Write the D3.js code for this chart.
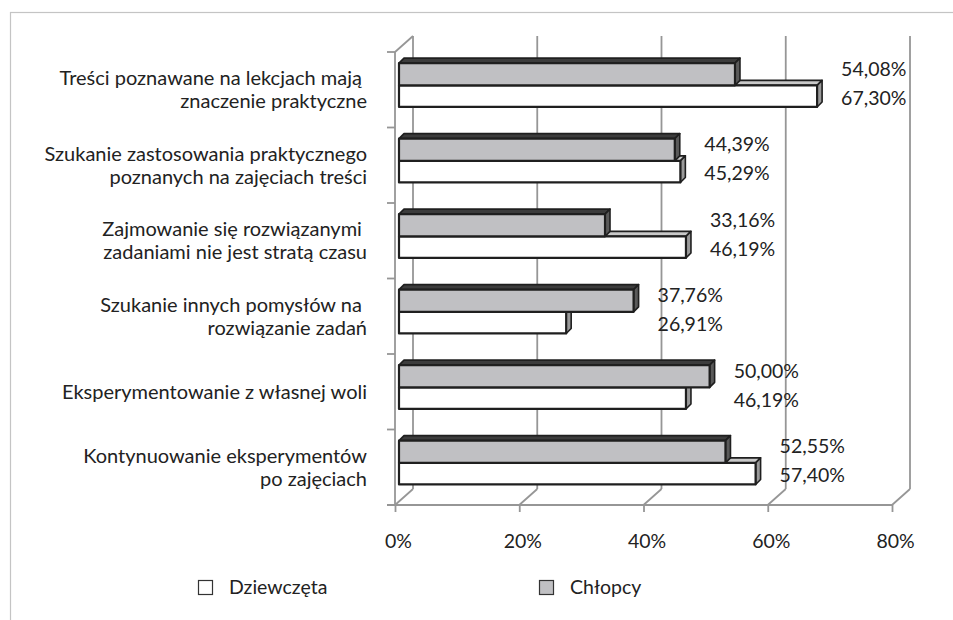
<!DOCTYPE html>
<html>
<head>
<meta charset="utf-8">
<script src="https://cdn.jsdelivr.net/npm/d3@7"></script>
<style>
  body { margin: 0; background: #fff; }
  svg text { font-family: Lato, "Open Sans", sans-serif; fill: #222; }
</style>
</head>
<body>
<div id="chart"></div>
<script>
// categories top -> bottom, line breaks as in the original
const categories = [
  "Treści poznawane na lekcjach mają \nznaczenie praktyczne",
  "Szukanie zastosowania praktycznego\npoznanych na zajęciach treści",
  "Zajmowanie się rozwiązanymi \nzadaniami nie jest stratą czasu",
  "Szukanie innych pomysłów na \nrozwiązanie zadań",
  "Eksperymentowanie z własnej woli",
  "Kontynuowanie eksperymentów\npo zajęciach"
];
const dziewczeta = [67.30, 45.29, 46.19, 26.91, 46.19, 57.40];
const chlopcy = [54.08, 44.39, 33.16, 37.76, 50.00, 52.55];
const xTicks = [0, 20, 40, 60, 80];
const seriesNames = ["Dziewczęta", "Chłopcy"];

const width = 953, height = 620;
const svg = d3.select('#chart')
  .append('svg')
  .attr('width', width)
  .attr('height', height);

// chart area border (only top + left visible)
svg.append('rect')
  .attr('x', 10.5).attr('y', 12.5)
  .attr('width', 1000).attr('height', 700)
  .attr('fill', 'none')
  .attr('stroke', '#c4c4c4')
  .attr('stroke-width', 1.2);

const x = d3.scaleLinear().domain([0, 80]).range([395, 892]);
const y = d3.scaleBand().domain(categories).range([52, 505]);
const bw = y.bandwidth();

// wall depth and bar depth (fake 3D)
const wd = { dx: 18, dy: -16 };
const bd = 5, inset = 4;
const gridColor = '#969696';
const yTop = y.range()[0], yBot = y.range()[1];

const walls = svg.append('g').attr('stroke', gridColor).attr('stroke-width', 1.8).attr('fill', 'none');

// back wall gridlines + floor diagonals
xTicks.forEach(t => {
  walls.append('line')
    .attr('x1', x(t) + wd.dx).attr('y1', yTop + wd.dy)
    .attr('x2', x(t) + wd.dx).attr('y2', yBot + wd.dy);
  walls.append('line')
    .attr('x1', x(t)).attr('y1', yBot)
    .attr('x2', x(t) + wd.dx).attr('y2', yBot + wd.dy);
});
// left wall top edge and front axis lines
walls.append('line')
  .attr('x1', x(0)).attr('y1', yTop)
  .attr('x2', x(0) + wd.dx).attr('y2', yTop + wd.dy);
walls.append('line')
  .attr('x1', x(0)).attr('y1', yTop)
  .attr('x2', x(0)).attr('y2', yBot);
walls.append('line')
  .attr('x1', x(0) - 8).attr('y1', yBot)
  .attr('x2', x(80)).attr('y2', yBot);

// category ticks on the left axis
const catEdges = categories.map(c => y(c)).concat([yBot]);
walls.selectAll('.ctick')
  .data(catEdges)
  .enter()
  .append('line')
  .attr('x1', x(0) - 8).attr('x2', x(0))
  .attr('y1', d => d).attr('y2', d => d);

// bottom axis with tick labels
const xAxis = svg.append('g')
  .attr('transform', `translate(0,${yBot})`)
  .call(d3.axisBottom(x).tickValues(xTicks).tickFormat(d => d + '%').tickSize(7).tickPadding(22));
xAxis.select('.domain').remove();
xAxis.selectAll('line').attr('stroke', gridColor).attr('stroke-width', 1.8);
xAxis.selectAll('text')
  .attr('dx', 3)
  .style('font-family', 'Lato, sans-serif')
  .style('font-size', '19.5px')
  .attr('fill', '#222');

// category labels
const catLabels = svg.append('g');
categories.forEach(c => {
  const lines = c.split('\n');
  const lh = 23;
  const cy = y(c) + bw / 2;
  const t = catLabels.append('text')
    .attr('text-anchor', 'end')
    .style('font-size', '20px')
    .style('white-space', 'pre');
  lines.forEach((l, i) => {
    t.append('tspan')
      .attr('x', 367)
      .attr('y', cy + (i - (lines.length - 1) / 2) * lh)
      .attr('dy', '0.35em')
      .text(l);
  });
});

// bars
const styles = {
  g: { front: '#c0c0c3', top: '#3c3c3c', side: '#5a5a5a' },
  w: { front: '#ffffff', top: '#c9c9c9', side: '#9a9a9a' }
};

function drawBar(g, v, y0, y1, st) {
  const x0 = x(0) + inset, x1 = x(v) + inset;
  const pts = a => a.map(p => p.join(',')).join(' ');
  const box = g.append('g').attr('stroke', '#1f1f1f').attr('stroke-width', 1.6).attr('stroke-linejoin', 'round');
  box.append('polygon')
    .attr('points', pts([[x0, y0], [x0 + bd, y0 - bd], [x1 + bd, y0 - bd], [x1, y0]]))
    .attr('fill', st.top);
  box.append('polygon')
    .attr('points', pts([[x1, y0], [x1 + bd, y0 - bd], [x1 + bd, y1 - bd], [x1, y1]]))
    .attr('fill', st.side);
  box.append('rect')
    .attr('x', x0).attr('y', y0)
    .attr('width', x1 - x0).attr('height', y1 - y0)
    .attr('fill', st.front)
    .attr('stroke-width', 2.2);
}

const barG = svg.append('g');
categories.forEach((c, i) => {
  const b = y(c);
  const gy0 = b + bw * 0.148, mid = b + bw * 0.442, wy1 = b + bw * 0.728;
  // white first so the gray bar sits on top of its top face
  drawBar(barG, dziewczeta[i], mid, wy1, styles.w);
  drawBar(barG, chlopcy[i], gy0, mid, styles.g);
});

// value labels
const pl = d3.formatLocale({ decimal: ',', thousands: ' ', grouping: [3], currency: ['', ' zł'] });
const fmt = v => pl.format('.2f')(v) + '%';
const valG = svg.append('g').style('font-size', '19.5px');
categories.forEach((c, i) => {
  const lx = x(Math.max(dziewczeta[i], chlopcy[i])) + inset + 24;
  valG.append('text')
    .attr('x', lx).attr('y', y(c) + 17).attr('dy', '0.35em')
    .text(fmt(chlopcy[i]));
  valG.append('text')
    .attr('x', lx).attr('y', y(c) + 46).attr('dy', '0.35em')
    .text(fmt(dziewczeta[i]));
});

// legend
const legend = svg.append('g').style('font-size', '19.5px');
const legendItems = [
  { name: seriesNames[0], fill: '#ffffff', x: 198 },
  { name: seriesNames[1], fill: '#c0c0c3', x: 539 }
];
legendItems.forEach(d => {
  legend.append('rect')
    .attr('x', d.x + 0.5).attr('y', 580.5)
    .attr('width', 14).attr('height', 14)
    .attr('fill', d.fill)
    .attr('stroke', '#333')
    .attr('stroke-width', 1.2);
  legend.append('text')
    .attr('x', d.x + 31).attr('y', 587).attr('dy', '0.35em')
    .text(d.name);
});
</script>
</body>
</html>
